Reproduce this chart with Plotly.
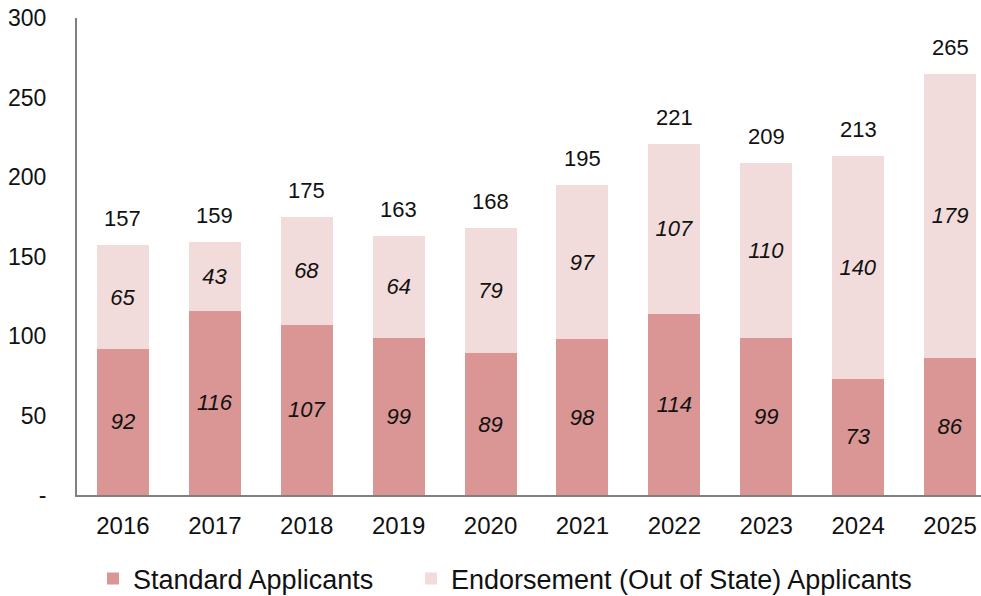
import plotly.graph_objects as go

years = ["2016", "2017", "2018", "2019", "2020", "2021", "2022", "2023", "2024", "2025"]
standard = [92, 116, 107, 99, 89, 98, 114, 99, 73, 86]
endorsement = [65, 43, 68, 64, 79, 97, 107, 110, 140, 179]
totals = [157, 159, 175, 163, 168, 195, 221, 209, 213, 265]

FONT = "Liberation Sans, Arial, sans-serif"

fig = go.Figure()
fig.add_trace(go.Bar(
    x=years, y=standard, name="Standard Applicants",
    marker=dict(color="#D99694", line=dict(width=0)),
    text=standard, textposition="inside", insidetextanchor="middle",
    textfont=dict(family=FONT, size=22, color="#111111", style="italic"),
    textangle=0, legend="legend",
))
fig.add_trace(go.Bar(
    x=years, y=endorsement, name="Endorsement (Out of State) Applicants",
    marker=dict(color="#F2DCDB", line=dict(width=0)),
    text=endorsement, textposition="inside", insidetextanchor="middle",
    textfont=dict(family=FONT, size=22, color="#111111", style="italic"),
    textangle=0, legend="legend2",
))

for i, tot in enumerate(totals):
    fig.add_annotation(
        x=i, y=tot, xref="x", yref="y", text=str(tot), showarrow=False,
        yanchor="bottom", yshift=12,
        font=dict(family=FONT, size=22, color="#111111"),
    )

legend_common = dict(orientation="h", y=-0.176, yanchor="middle", xanchor="left",
                     font=dict(family=FONT, size=27, color="#111111"),
                     itemwidth=30, bgcolor="rgba(0,0,0,0)")

fig.update_layout(
    barmode="stack",
    bargap=0.434,
    width=981, height=596,
    margin=dict(l=77, r=0, t=18, b=101, autoexpand=False),
    plot_bgcolor="white", paper_bgcolor="white",
    font=dict(family=FONT, size=22, color="#111111"),
    showlegend=True,
    legend=dict(x=0.0177, **legend_common),
    legend2=dict(x=0.3695, **legend_common),
    uniformtext=dict(mode=False),
)
fig.update_xaxes(
    type="category",
    range=[-0.5, 9.337], automargin=False,
    showline=True, linecolor="#808080", linewidth=2,
    ticks="", tickfont=dict(family=FONT, size=24, color="#111111"),
    showgrid=False, ticklabelstandoff=8, ticklabeloverflow="allow",
)
fig.update_yaxes(
    range=[0, 300], tickvals=[0, 50, 100, 150, 200, 250, 300],
    ticktext=["-", "50", "100", "150", "200", "250", "300"],
    automargin=False,
    showline=True, linecolor="#808080", linewidth=2,
    showgrid=False, zeroline=False, ticks="",
    tickfont=dict(family=FONT, size=23, color="#111111"),
    ticklabelstandoff=24, ticklabeloverflow="allow",
)

fig.write_html(
    "out.html",
    config={"displayModeBar": False},
    post_script="document.body.style.margin='0';document.body.style.overflow='hidden';",
)
